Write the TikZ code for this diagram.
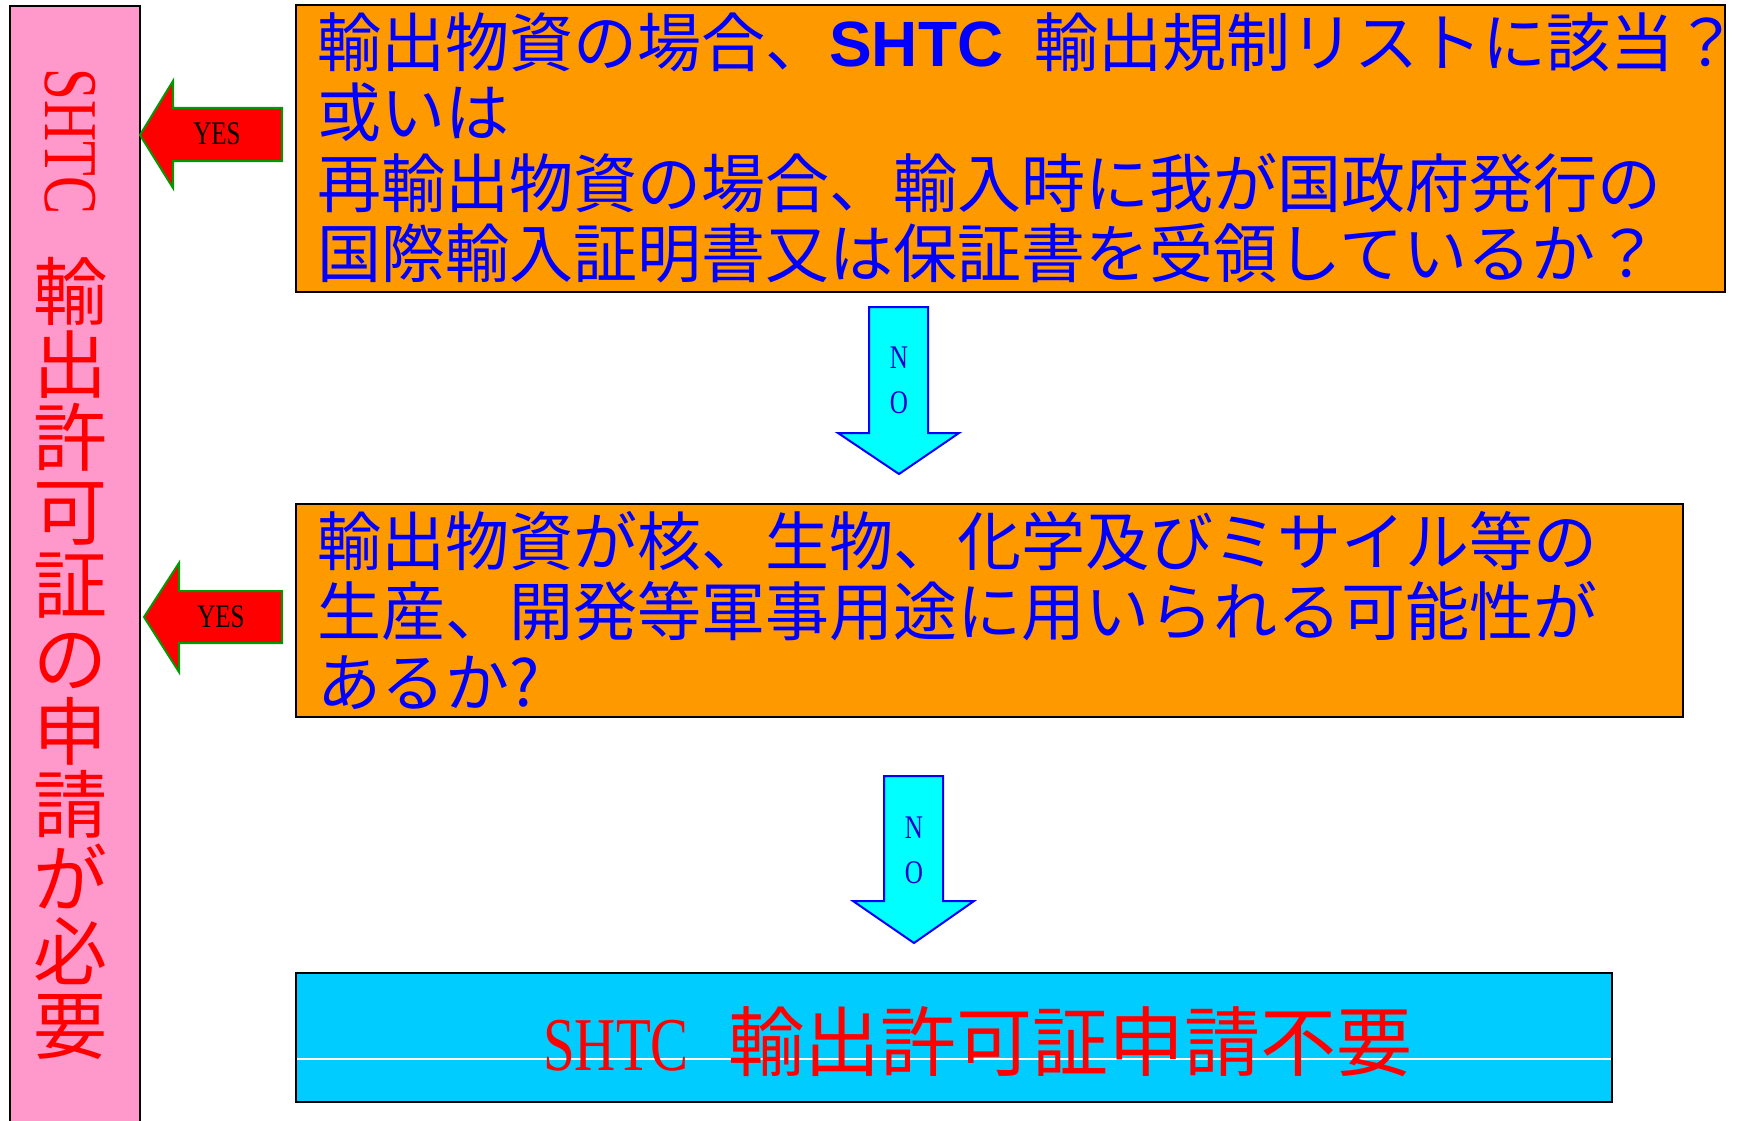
\documentclass[tikz,border=0pt]{standalone}
\usepackage{fontspec}
\usepackage{graphicx}
\setmainfont{Liberation Serif}
\newfontfamily\jp{Noto Sans CJK JP}
\newfontfamily\arl{Liberation Sans}
\newfontfamily\tms{Liberation Serif}
\newcommand\cond[2]{\scalebox{#1}[1]{#2}}
\definecolor{boxorange}{HTML}{FF9900}
\definecolor{boxcyan}{HTML}{00CCFF}
\definecolor{barpink}{HTML}{FF99CC}
\definecolor{arrowgreen}{HTML}{009900}
\definecolor{nocyan}{HTML}{00FFFF}
\definecolor{noblue}{HTML}{0000CC}
\definecolor{jblue}{HTML}{0000FF}
\definecolor{jred}{HTML}{FF0000}
\tikzset{
  qbox/.style={draw=black, line width=2pt, fill=boxorange, inner sep=0, minimum width=#1},
  qtext/.style={anchor=north west, inner sep=0, align=left, text=jblue,
    font=\jp\fontsize{64}{70.5}\selectfont},
  yesarrow/.style={fill=jred, draw=arrowgreen, line width=2pt, line join=miter},
  noarrow/.style={fill=nocyan, draw=jblue, line width=2pt, line join=miter},
  yeslabel/.style={inner sep=0, text=black, font=\tms\fontsize{33}{33}\selectfont},
  nolabel/.style={inner sep=0, text=noblue, align=center, font=\tms\fontsize{33}{45}\selectfont},
  vchar/.style={inner sep=0, text=jred, text height=65.1pt, text depth=8.9pt,
    font=\jp\fontsize{74}{74}\selectfont},
}
\begin{document}
\begin{tikzpicture}[x=1pt,y=-1pt]
\useasboundingbox (0,0) rectangle (1737,1121);
\clip (0,0) rectangle (1737,1121);
\fill[white] (0,0) rectangle (1737,1121);

% left bar
\node[draw=black, line width=2pt, fill=barpink, inner sep=0, minimum width=130, minimum height=1150, anchor=north west] (bar) at (9,5) {};
\node[inner sep=0, text=jred, rotate=-90, font=\tms\fontsize{76}{76}\selectfont] (vshtc) at (70,141.5) {\cond{0.75}{SHTC}};
\foreach \c [count=\i from 0] in {輸,出,許,可,証,の,申,請,が,必,要}
  \node[vchar] (v\i) at (70,{291+73.4*\i}) {\c};

% question boxes
\node[qbox=1429, minimum height=287] (q1) at (1010.5,148.5) {};
\node[qtext] (q1t) at (317,10) {\rule{0pt}{56pt}輸出物資の場合、{\arl\bfseries SHTC}\hspace{31pt}輸出規制リストに該当？\\
或いは\\
再輸出物資の場合、輸入時に我が国政府発行の\\
国際輸入証明書又は保証書を受領しているか？};

\node[qbox=1387, minimum height=213] (q2) at (989.5,610.5) {};
\node[qtext] (q2t) at (317,509) {\rule{0pt}{56pt}輸出物資が核、生物、化学及びミサイル等の\\
生産、開発等軍事用途に用いられる可能性が\\
あるか?};

% result box
\node[draw=none, fill=boxcyan, inner sep=0, minimum width=1316, minimum height=129] (res) at (954,1037.5) {};
\draw[white, line width=1.2pt] (res.west |- 0,1059) -- (res.east |- 0,1059);
\node[draw=black, line width=2.5pt, inner sep=0, minimum width=1316, minimum height=129] (resb) at (954,1037.5) {};
\node[anchor=base west, inner sep=0, text=jred, font=\jp\fontsize{76}{76}\selectfont] (rest) at (543,1070)
  {{\tms\fontsize{76}{76}\selectfont\cond{0.75}{SHTC}}\hspace{40pt}輸出許可証申請不要};

% YES arrows
\draw[yesarrow] (282,108) -- (173,108) -- (173,81) -- (140,135) -- (173,188) -- (173,161) -- (282,161) -- cycle;
\node[yeslabel] (yes1) at (217,134) {\cond{0.76}{YES}};
\draw[yesarrow] (282,591) -- (179,591) -- (179,563) -- (144,617) -- (179,672) -- (179,643) -- (282,643) -- cycle;
\node[yeslabel] (yes2) at (221,617) {\cond{0.76}{YES}};

% NO arrows
\draw[noarrow] (869,307) -- (928,307) -- (928,433) -- (959,433) -- (899,474) -- (838,433) -- (869,433) -- cycle;
\node[nolabel] (no1) at (899,380.5) {\cond{0.76}{N}\\\cond{0.76}{O}};
\draw[noarrow] (884,776) -- (943,776) -- (943,901) -- (974,901) -- (914,943) -- (853,901) -- (884,901) -- cycle;
\node[nolabel] (no2) at (914,850.5) {\cond{0.76}{N}\\\cond{0.76}{O}};
\end{tikzpicture}
\end{document}
